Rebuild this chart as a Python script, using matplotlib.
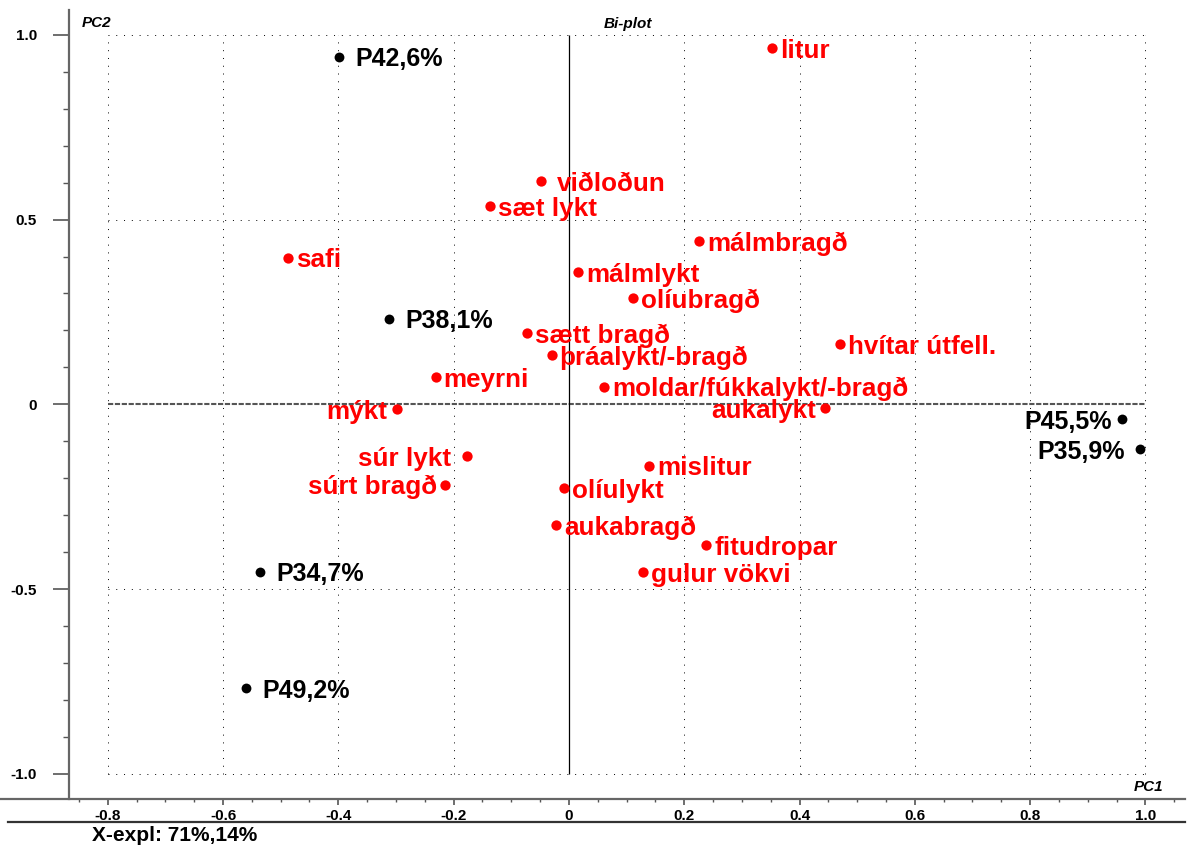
import matplotlib
matplotlib.use('Agg')
import matplotlib.pyplot as plt
from matplotlib.lines import Line2D
import numpy as np

plt.rcParams['font.family'] = ['Liberation Sans', 'DejaVu Sans']
plt.rcParams['font.weight'] = 'bold'

# scores (samples)
samples = ['P42,6%', 'P38,1%', 'P34,7%', 'P49,2%', 'P45,5%', 'P35,9%']
samp_pc1 = [-0.399, -0.312, -0.536, -0.560, 0.959, 0.991]
samp_pc2 = [0.940, 0.231, -0.453, -0.768, -0.041, -0.122]

# loadings (sensory attributes)
attrs = ['litur', 'viðloðun', 'sæt lykt', 'málmbragð', 'safi', 'málmlykt',
         'olíubragð', 'sætt bragð', 'þráalykt/-bragð', 'hvítar útfell.',
         'meyrni', 'moldar/fúkkalykt/-bragð', 'aukalykt', 'mýkt', 'súr lykt',
         'súrt bragð', 'olíulykt', 'mislitur', 'aukabragð', 'fitudropar',
         'gulur vökvi']
attr_pc1 = [0.352, -0.048, -0.137, 0.226, -0.487, 0.016, 0.111, -0.073, -0.030,
            0.470, -0.231, 0.061, 0.445, -0.299, -0.176, -0.215, -0.008, 0.139,
            -0.022, 0.238, 0.128]
attr_pc2 = [0.964, 0.604, 0.536, 0.442, 0.396, 0.358, 0.287, 0.192, 0.133,
            0.162, 0.073, 0.048, -0.011, -0.014, -0.140, -0.218, -0.227, -0.166,
            -0.327, -0.381, -0.454]

xticks = [-0.8, -0.6, -0.4, -0.2, 0, 0.2, 0.4, 0.6, 0.8, 1.0]
xticklabels = ['-0.8', '-0.6', '-0.4', '-0.2', '0', '0.2', '0.4', '0.6', '0.8', '1.0']
yticks = [-1.0, -0.5, 0, 0.5, 1.0]
yticklabels = ['-1.0', '-0.5', '0', '0.5', '1.0']

# label placement: side of the dot and gap in pixels
samp_side = {'P45,5%': ('r', 10), 'P35,9%': ('r', 15)}
attr_side = {'viðloðun': ('l', 16), 'aukalykt': ('r', 9), 'mýkt': ('r', 9),
             'súr lykt': ('r', 16), 'súrt bragð': ('r', 8)}

fig = plt.figure(figsize=(11.87, 8.46), dpi=100)
W, H = 1187, 846
ax = fig.add_axes([69 / W, 47 / H, (W - 69) / W, (836) / H - 47 / H])

x0, xs = 568.9, 576.5
y0, ys = 404.3, 369.5
ax.set_xlim((69 - x0) / xs, (W - x0) / xs)
ax.set_ylim((y0 - 799) / ys, (y0 - 10) / ys)

# dotted grid inside the +-1 frame
dot = (0, (1, 7))
ax.vlines([t for t in xticks if t != 0], yticks[0], yticks[-1], colors='black',
          linestyles=dot, linewidth=0.7)
ax.hlines([t for t in yticks if t != 0], xticks[0], xticks[-1], colors='black',
          linestyles=dot, linewidth=0.7)
ax.hlines(0, xticks[0], xticks[-1], colors='#555555', linewidth=1.5,
          linestyles=(0, (2.5, 0.8)))
ax.vlines(0, yticks[0], yticks[-1], colors='black', linewidth=0.9)

ax.scatter(samp_pc1, samp_pc2, s=50, color='black', zorder=3, linewidths=0)
ax.scatter(attr_pc1, attr_pc2, s=55, color='#ff0000', zorder=3, linewidths=0)

for name, x, y in zip(samples, samp_pc1, samp_pc2):
    side, gap = samp_side.get(name, ('l', 16))
    dx = gap if side == 'l' else -gap
    ax.annotate(name, (x, y), xytext=(dx, 0), textcoords='offset pixels',
                ha='left' if side == 'l' else 'right', va='center_baseline',
                fontsize=18, fontweight='bold', color='black')

for name, x, y in zip(attrs, attr_pc1, attr_pc2):
    side, gap = attr_side.get(name, ('l', 8))
    dx = gap if side == 'l' else -gap
    ax.annotate(name, (x, y), xytext=(dx, 0), textcoords='offset pixels',
                ha='left' if side == 'l' else 'right', va='center_baseline',
                fontsize=18.7, fontweight='bold', color='#ff0000')

ax.set_xticks(xticks)
ax.set_xticklabels(xticklabels)
ax.set_yticks(yticks)
ax.set_yticklabels(yticklabels)
ax.set_xticks(np.arange(-0.85, 1.06, 0.05), minor=True)
ax.set_yticks(np.arange(-1.0, 1.01, 0.1), minor=True)
ax.tick_params(axis='y', which='major', length=11.5, width=1.2, color='#555555',
               pad=11.5, labelsize=11)
ax.tick_params(axis='y', which='minor', length=4.3, width=1.0, color='#555555')
ax.tick_params(axis='x', which='major', length=4.5, width=1.2, color='#555555',
               pad=3, labelsize=11)
ax.tick_params(axis='x', which='minor', length=2.5, width=1.0, color='#555555')
for lab in ax.get_xticklabels() + ax.get_yticklabels():
    lab.set_fontweight('bold')

for s in ['top', 'right', 'bottom']:
    ax.spines[s].set_visible(False)
ax.spines['left'].set_color('#666666')
ax.spines['left'].set_linewidth(1.6)

# axis line and underline running the full width
fig.add_artist(Line2D([0, 1185 / W], [1 - 799 / H] * 2, color='#666666', linewidth=1.6))
fig.add_artist(Line2D([8 / W, 1185 / W], [1 - 822 / H] * 2, color='#333333', linewidth=1.6))

fig.text(82 / W, 1 - 23 / H, 'PC2', fontsize=11, fontweight='bold', style='italic',
         va='center', ha='left')
fig.text(604 / W, 1 - 24 / H, 'Bi-plot', fontsize=11, fontweight='bold', style='italic',
         va='center', ha='left')
fig.text(1163 / W, 1 - 787 / H, 'PC1', fontsize=11, fontweight='bold', style='italic',
         va='center', ha='right')
fig.text(92 / W, 1 - 835 / H, 'X-expl: 71%,14%', fontsize=15, fontweight='bold',
         va='center', ha='left')

fig.savefig('out.png', dpi=100)
